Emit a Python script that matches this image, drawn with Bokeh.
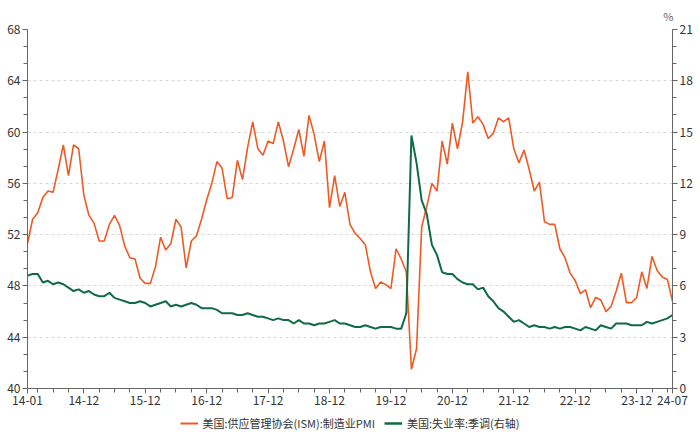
from bokeh.plotting import figure
from bokeh.layouts import column
from bokeh.models import (Range1d, LinearAxis, FixedTicker, Legend, LegendItem,
                          Title, ColumnDataSource)
from bokeh.embed import file_html
from bokeh.resources import INLINE

# ---- data (monthly, 2014-01 .. 2024-07) ----
years = list(range(2014, 2025))
months = [f"{y}-{m:02d}" for y in years for m in range(1, 13)][:127]

pmi = [
    51.3, 53.2, 53.7, 54.9, 55.4, 55.3, 57.1, 59.0, 56.6, 59.0, 58.7, 55.1,
    53.5, 52.9, 51.5, 51.5, 52.8, 53.5, 52.7, 51.1, 50.2, 50.1, 48.6, 48.2,
    48.2, 49.5, 51.8, 50.8, 51.3, 53.2, 52.6, 49.4, 51.5, 51.9, 53.2, 54.7,
    56.0, 57.7, 57.2, 54.8, 54.9, 57.8, 56.3, 58.8, 60.8, 58.7, 58.2, 59.3,
    59.1, 60.8, 59.3, 57.3, 58.7, 60.2, 58.1, 61.3, 59.8, 57.7, 59.3, 54.1,
    56.6, 54.2, 55.3, 52.8, 52.1, 51.7, 51.2, 49.1, 47.8, 48.3, 48.1, 47.8,
    50.9, 50.1, 49.1, 41.5, 43.1, 52.6, 54.2, 56.0, 55.4, 59.3, 57.5, 60.7,
    58.7, 60.8, 64.7, 60.7, 61.2, 60.6, 59.5, 59.9, 61.1, 60.8, 61.1, 58.7,
    57.6, 58.6, 57.1, 55.4, 56.1, 53.0, 52.8, 52.8, 50.9, 50.2, 49.0, 48.4,
    47.4, 47.7, 46.3, 47.1, 46.9, 46.0, 46.4, 47.6, 49.0, 46.7, 46.7, 47.1,
    49.1, 47.8, 50.3, 49.2, 48.7, 48.5, 46.8,
]
unemp = [
    6.6, 6.7, 6.7, 6.2, 6.3, 6.1, 6.2, 6.1, 5.9, 5.7, 5.8, 5.6,
    5.7, 5.5, 5.4, 5.4, 5.6, 5.3, 5.2, 5.1, 5.0, 5.0, 5.1, 5.0,
    4.8, 4.9, 5.0, 5.1, 4.8, 4.9, 4.8, 4.9, 5.0, 4.9, 4.7, 4.7,
    4.7, 4.6, 4.4, 4.4, 4.4, 4.3, 4.3, 4.4, 4.3, 4.2, 4.2, 4.1,
    4.0, 4.1, 4.0, 4.0, 3.8, 4.0, 3.8, 3.8, 3.7, 3.8, 3.8, 3.9,
    4.0, 3.8, 3.8, 3.7, 3.6, 3.6, 3.7, 3.6, 3.5, 3.6, 3.6, 3.6,
    3.5, 3.5, 4.4, 14.8, 13.2, 11.0, 10.2, 8.4, 7.8, 6.8, 6.7, 6.7,
    6.4, 6.2, 6.1, 6.1, 5.8, 5.9, 5.4, 5.1, 4.7, 4.5, 4.2, 3.9,
    4.0, 3.8, 3.6, 3.7, 3.6, 3.6, 3.5, 3.6, 3.5, 3.6, 3.6, 3.5,
    3.4, 3.6, 3.5, 3.4, 3.7, 3.6, 3.5, 3.8, 3.8, 3.8, 3.7, 3.7,
    3.7, 3.9, 3.8, 3.9, 4.0, 4.1, 4.3,
]

x_tick_labels = ["14-01", "14-12", "15-12", "16-12", "17-12", "18-12",
                 "19-12", "20-12", "21-12", "22-12", "23-12", "24-07"]
left_ticks = [40, 44, 48, 52, 56, 60, 64, 68]
right_ticks = [0, 3, 6, 9, 12, 15, 18, 21]
name_pmi = "美国:供应管理协会(ISM):制造业PMI"
name_unemp = "美国:失业率:季调(右轴)"
unit_right = "%"

# ---- build ----
def month_index(s):
    y, m = s.split("-")
    return (int(y) - 2014) * 12 + int(m) - 1

idx = [month_index(m) for m in months]
label_to_idx = {}
for lab in x_tick_labels:
    label_to_idx[month_index("20" + lab)] = lab
major_x = sorted(label_to_idx.keys())
minor_x = [i for i in range(2, idx[-1] + 1, 3)]

src = ColumnDataSource(dict(x=idx, pmi=pmi, unemp=unemp))

FONT = "Noto Sans CJK SC"
ORANGE = "#EE5A24"
GREEN = "#0F6B45"
AXIS_C = "#666666"
TXT_C = "#333333"

p = figure(width=700, height=412, output_backend="svg", toolbar_location=None,
           x_range=Range1d(0, idx[-1]), y_range=Range1d(40, 68),
           min_border_left=27, min_border_right=28, min_border_top=29,
           min_border_bottom=24, outline_line_color=None,
           background_fill_color="white", border_fill_color="white")
p.extra_y_ranges = {"right": Range1d(0, 21)}

r1 = p.line("x", "pmi", source=src, color=ORANGE, line_width=1.6)
r2 = p.line("x", "unemp", source=src, color=GREEN, line_width=2,
            y_range_name="right")

# x axis
xa = p.xaxis[0]
xa.ticker = FixedTicker(ticks=major_x, minor_ticks=minor_x)
xa.major_label_overrides = {k: v for k, v in label_to_idx.items()}

# left axis
ya = p.yaxis[0]
ya.ticker = FixedTicker(ticks=left_ticks,
                        minor_ticks=[40 + i * 4 / 3 for i in range(22)])

# right axis
ra = LinearAxis(y_range_name="right",
                ticker=FixedTicker(ticks=right_ticks, minor_ticks=list(range(0, 22))))
p.add_layout(ra, "right")

for ax in (xa, ya, ra):
    ax.axis_line_color = AXIS_C
    ax.major_tick_line_color = AXIS_C
    ax.minor_tick_line_color = AXIS_C
    ax.major_tick_in = 0
    ax.minor_tick_in = 0
    ax.major_tick_out = 5
    ax.minor_tick_out = 4
    ax.major_label_text_font = FONT
    ax.major_label_text_font_size = "12px"
    ax.major_label_text_color = TXT_C
    ax.major_label_standoff = 2

p.xgrid.visible = False
p.ygrid.ticker = FixedTicker(ticks=left_ticks[1:])
p.ygrid.grid_line_color = "#d8d8d8"
p.ygrid.grid_line_dash = "3 3"

# % unit label above the right axis
p.add_layout(Title(text=unit_right, align="right", text_font=FONT,
                   text_font_size="11px", text_font_style="normal",
                   text_color="#666666", standoff=11, offset=-1), "above")

# ---- legend strip below the chart (same series, drawn out of view) ----
lg = figure(width=700, height=22, output_backend="svg", toolbar_location=None,
            x_range=Range1d(-20, -10), y_range=Range1d(0, 1),
            x_axis_type=None, y_axis_type=None, outline_line_color=None,
            min_border_left=0, min_border_right=0, min_border_top=0,
            min_border_bottom=0, background_fill_color="white",
            border_fill_color="white")
lg.xgrid.visible = False
lg.ygrid.visible = False
k1 = lg.line("x", "pmi", source=src, color=ORANGE, line_width=2)
k2 = lg.line("x", "unemp", source=src, color=GREEN, line_width=2.5)

legend = Legend(items=[LegendItem(label=name_pmi, renderers=[k1]),
                       LegendItem(label=name_unemp, renderers=[k2])],
                orientation="horizontal", location="center",
                label_text_font=FONT, label_text_font_size="11px",
                label_text_color=TXT_C, padding=0, margin=0, spacing=9,
                glyph_width=18, glyph_height=16, label_height=16,
                label_standoff=5, border_line_color=None,
                background_fill_alpha=0)
lg.add_layout(legend, "center")

layout = column(p, lg, spacing=0)
open("out.html", "w").write(file_html(layout, INLINE))
